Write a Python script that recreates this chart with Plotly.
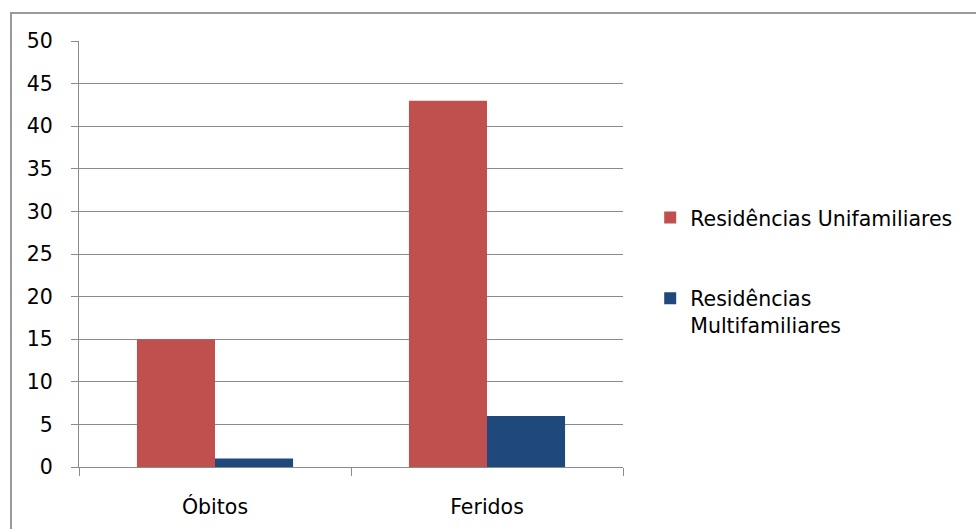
import plotly.graph_objects as go

# Vítimas por tipo de edificação
categorias = ["Óbitos", "Feridos"]
unifamiliares = [15, 43]
multifamiliares = [1, 6]
nome_uni = "Residências Unifamiliares"
nome_multi = "Residências<br>Multifamiliares"
y_ticks = [0, 5, 10, 15, 20, 25, 30, 35, 40, 45, 50]

FONT = "DejaVu Sans"
FSIZE = 20.5
GRID = "#8a8a8a"

fig = go.Figure()
fig.add_trace(go.Bar(
    x=categorias, y=unifamiliares, name=nome_uni,
    marker=dict(color="#C0504D", line=dict(width=0)),
    legendgroup="uni",
))
fig.add_trace(go.Bar(
    x=categorias, y=multifamiliares, name=nome_multi,
    marker=dict(color="#1F497D", line=dict(width=0)),
    legendgroup="multi",
))

fig.update_layout(
    width=976, height=529,
    margin=dict(l=79, r=353, t=41, b=62),
    paper_bgcolor="white", plot_bgcolor="white",
    barmode="group", bargap=0.426, bargroupgap=0,
    font=dict(family=FONT, size=FSIZE, color="black"),
    showlegend=True,
    legend=dict(
        x=1.05, xanchor="left", y=0.632, yanchor="top",
        traceorder="grouped", tracegroupgap=51,
        valign="top",
        font=dict(family=FONT, size=FSIZE, color="black"),
        bgcolor="rgba(0,0,0,0)",
    ),
    shapes=[dict(
        type="rect", xref="paper", yref="paper",
        x0=-0.125, x1=1.7, y0=-0.4, y1=1.066,
        line=dict(color="#999999", width=2), fillcolor="rgba(0,0,0,0)",
        layer="below",
    )],
)

fig.update_xaxes(
    automargin=False,
    showline=True, linecolor=GRID, linewidth=1,
    ticks="outside", tickson="boundaries", ticklen=8, tickcolor=GRID,
    showgrid=False, ticklabelstandoff=21,
    tickfont=dict(family=FONT, size=FSIZE, color="black"),
)
fig.update_yaxes(
    automargin=False,
    range=[0, 50], tickvals=y_ticks,
    showline=True, linecolor=GRID, linewidth=1,
    ticks="outside", ticklen=7, tickcolor=GRID,
    showgrid=True, gridcolor=GRID, gridwidth=1,
    zeroline=False, ticklabelstandoff=14,
    tickfont=dict(family=FONT, size=FSIZE, color="black"),
)

fig.write_html("out.html")
